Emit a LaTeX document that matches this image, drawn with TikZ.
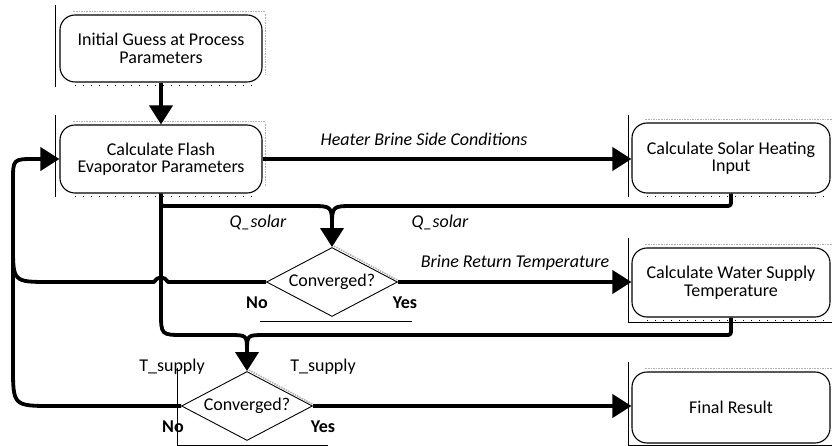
\documentclass[tikz,border=0pt]{standalone}
\usepackage{fontspec}
\setmainfont{Carlito}
\usetikzlibrary{arrows.meta,shapes.geometric,calc}
\begin{document}
\begin{tikzpicture}[x=1pt,y=-1pt,
  every node/.style={font=\fontsize{18}{17.5}\selectfont},
  box/.style={draw, line width=1.1pt, rounded corners=15pt, align=center, inner sep=0pt},
  dia/.style={draw, diamond, line width=0.9pt, minimum width=131pt, minimum height=69pt, inner sep=0pt, aspect=1.9},
  conn/.style={line width=3.8pt, line cap=butt, line join=round},
  arr/.style={conn, -{Triangle[length=19pt,width=23pt]}},
  lab/.style={font=\fontsize{18}{17.5}\selectfont\itshape, inner sep=0pt},
  yn/.style={font=\fontsize{18}{17.5}\selectfont\bfseries, inner sep=0pt},
  plainlab/.style={inner sep=0pt},
  hair/.style={line width=0.9pt},
  fuzz/.style={gray!60, line width=1.6pt, densely dotted},
  dots/.style={line width=0.8pt, dash pattern=on 1pt off 7pt},
]
\useasboundingbox (0,0) rectangle (832,446);

% boxes
\node[box, minimum width=202pt, minimum height=67pt] (b1) at (161,48.5) {Initial Guess at Process\\Parameters};
\node[box, minimum width=202pt, minimum height=68pt] (b2) at (161,159) {Calculate Flash\\Evaporator Parameters};
\node[box, minimum width=198pt, minimum height=70pt] (b3) at (731,158) {Calculate Solar Heating\\Input};
\node[box, minimum width=198pt, minimum height=69pt] (b4) at (731,282.5) {Calculate Water Supply\\Temperature};
\node[box, minimum width=198pt, minimum height=71pt] (b5) at (731,407.5) {Final Result};

% diamonds
\node[dia] (d1) at (332,282) {};
\node[plainlab] (d1t) at (332,282) {Converged?};
\node[dia] (d2) at (247,406) {};
\node[plainlab] (d2t) at (247,406) {Converged?};

% box decorations (shadow-like edges)
\foreach \b in {b1,b2,b3,b4,b5}{
  \draw[fuzz] ($(\b.north west)+(14,-3)$) -- ($(\b.north east)+(2,-3)$);
  \draw[fuzz] ($(\b.north east)+(3,0)$) -- ($(\b.south east)+(3,-8)$);
  \draw[dots] ($(\b.south west)+(16,3)$) -- ($(\b.south east)+(-4,3)$);
}
\draw[fuzz] ($(d1.north)+(2,-1)$) -- ($(d1.east)+(3,0)$);
\draw[fuzz] ($(d2.north)+(2,-1)$) -- ($(d2.east)+(3,0)$);

% thin guide lines
\draw[hair] (55,5) -- (55,87);
\draw[hair] (55,115) -- (55,197);
\draw[hair] (628,115) -- (628,197);
\draw[hair] (628,238) -- (628,322) -- (832,322);
\draw[hair] (628,362) -- (628,445) -- (832,445);
\draw[hair] (260,321) -- (412,321);
\draw[hair] (177,368) -- (177,445) -- (328,445);

% connectors
\draw[arr] (b1) -- (b2);
\draw[arr] (b2.east) -- (b2.east -| b3.west);

\draw[conn] (b2.south) -- (161,200) .. controls (161,206) .. (167,206) -- (310,206) .. controls (332,206) .. (332,227);
\draw[arr] (b3.south) -- (731,200) .. controls (731,206) .. (725,206) -- (354,206) .. controls (332,206) .. (332,227) -- (d1.north);

\draw[arr] (d1.east) -- (d1.east -| b4.west);

\draw[conn] (b2.south) -- (161,312) .. controls (161,335) .. (184,335) -- (229,335) .. controls (247,335) .. (247,352);
\draw[arr] (b4.south) -- (731,329) .. controls (731,335) .. (725,335) -- (265,335) .. controls (247,335) .. (247,352) -- (d2.north);

\draw[arr] (d2.east) -- (d2.east -| b5.west);

% No loops
\draw[conn] (d1.west) -- (168,282) .. controls (165,276) and (157,276) .. (154,282) -- (50,282) .. controls (13,282) .. (13,245) -- (13,200);
\draw[arr] (d2.west) -- (53,406) .. controls (13,406) .. (13,366) -- (13,181) .. controls (13,159) .. (35,159) -- (b2.west);

% labels
\node[lab] (l1) at (424,139) {Heater Brine Side Conditions};
\node[lab] (l2) at (258,222) {Q\_solar};
\node[lab] (l3) at (440,222) {Q\_solar};
\node[lab] (l4) at (515,263) {Brine Return Temperature};
\node[yn] (n1) at (257,303) {No};
\node[yn] (y1) at (405,303) {Yes};
\node[plainlab] (t1) at (172,367) {T\_supply};
\node[plainlab] (t2) at (323,367) {T\_supply};
\node[yn] (n2) at (173,427) {No};
\node[yn] (y2) at (323,427) {Yes};
\end{tikzpicture}
\end{document}
